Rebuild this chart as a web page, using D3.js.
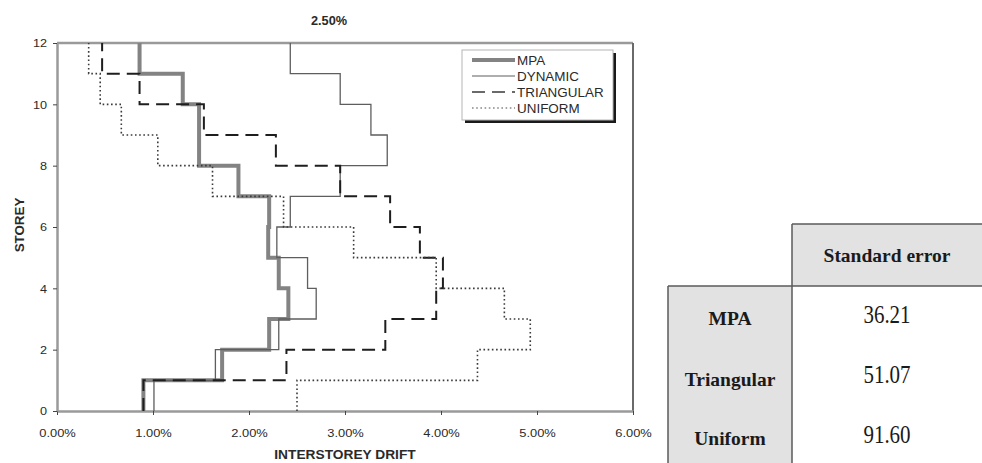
<!DOCTYPE html>
<html>
<head>
<meta charset="utf-8">
<script src="https://cdn.jsdelivr.net/npm/d3@7"></script>
<style>
  html, body { margin: 0; padding: 0; background: #fff; }
  svg { display: block; }
</style>
</head>
<body>
<svg id="chart" width="982" height="463"></svg>
<script>
// Interstorey drift per storey (in %), storey i spans floor level i-1 to i
const storeys = [1, 2, 3, 4, 5, 6, 7, 8, 9, 10, 11, 12];
const mpa        = [0.90, 1.72, 2.21, 2.41, 2.31, 2.20, 2.21, 1.89, 1.48, 1.48, 1.31, 0.86];
const dynamic    = [1.01, 1.65, 2.31, 2.70, 2.61, 2.29, 2.43, 2.95, 3.44, 3.27, 2.95, 2.43];
const triangular = [0.90, 2.39, 3.42, 3.95, 4.02, 3.78, 3.47, 2.95, 2.28, 1.53, 0.86, 0.47];
const uniform    = [2.50, 4.38, 4.93, 4.66, 3.95, 3.09, 2.36, 1.62, 1.05, 0.67, 0.45, 0.33];

const seriesNames = ["MPA", "DYNAMIC", "TRIANGULAR", "UNIFORM"];
const xTicks = [0, 1, 2, 3, 4, 5, 6];
const yTicks = [0, 2, 4, 6, 8, 10, 12];
const chartTitle = "2.50%";

// Standard error table
const tableHeader = "Standard error";
const methods = ["MPA", "Triangular", "Uniform"];
const stdErrors = [36.21, 51.07, 91.60];

const svg = d3.select("#chart");
const SANS = "'Liberation Sans', Arial, sans-serif";
const SERIF = "'Liberation Serif', 'Times New Roman', serif";

const x = d3.scaleLinear().domain([0, 6]).range([57, 633]);
const y = d3.scaleLinear().domain([0, 12]).range([411, 43]);

// slightly widened sans text, as in the chart's rendering
function label(parent, px, py, text, opt = {}) {
  const sx = opt.sx || 1.1;
  return parent.append("text")
    .attr("transform", `translate(${px},${py})${opt.rotate ? ` rotate(${opt.rotate})` : ""} scale(${sx},1)`)
    .attr("text-anchor", opt.anchor || "start")
    .attr("font-family", opt.family || SANS)
    .attr("font-size", opt.size || 11.5)
    .attr("font-weight", opt.weight || "normal")
    .attr("fill", opt.fill || "#2a2a2a")
    .text(text);
}

// ---- plot frame (top and right borders)
svg.append("line").attr("x1", x(0)).attr("x2", x(6)).attr("y1", y(12)).attr("y2", y(12))
  .attr("stroke", "#9a9a9a").attr("stroke-width", 2.5);
svg.append("line").attr("x1", x(6)).attr("x2", x(6)).attr("y1", y(12)).attr("y2", y(0))
  .attr("stroke", "#6a6a6a").attr("stroke-width", 2);

// ---- axes
const xAxis = svg.append("g").attr("transform", `translate(0,${y(0)})`)
  .call(d3.axisBottom(x).tickValues(xTicks).tickSize(4).tickSizeOuter(0).tickPadding(14)
    .tickFormat(d => d.toFixed(2) + "%"));
const yAxis = svg.append("g").attr("transform", `translate(${x(0)},0)`)
  .call(d3.axisLeft(y).tickValues(yTicks).tickSize(4).tickSizeOuter(0).tickPadding(6)
    .tickFormat(d3.format("d")));

[xAxis, yAxis].forEach(g => {
  g.select(".domain").attr("stroke", "#9a9a9a").attr("stroke-width", 2.5);
  g.selectAll(".tick line").attr("stroke", "#444").attr("stroke-width", 1);
  g.selectAll(".tick text").attr("font-family", SANS).attr("font-size", 11.5).attr("fill", "#2a2a2a");
});
xAxis.selectAll(".tick text").attr("transform", "scale(1.12,1)");
yAxis.selectAll(".tick text").attr("x", -10 / 1.1).attr("transform", "scale(1.1,1)");

// ---- titles
label(svg, 329, 25, chartTitle, { anchor: "middle", size: 12.5, weight: "bold", sx: 1.02 });
label(svg, 345, 459, "INTERSTOREY DRIFT", { anchor: "middle", size: 12.5, weight: "bold", sx: 1.1 });
label(svg, 24, 225, "STOREY", { anchor: "middle", size: 12.5, weight: "bold", rotate: -90, sx: 1.07 });

// ---- step profiles: each storey drawn as a vertical segment between its floor levels
function stepPoints(values) {
  const pts = [];
  values.forEach((v, i) => {
    pts.push([v, storeys[i] - 1]);
    pts.push([v, storeys[i]]);
  });
  return pts;
}
const line = d3.line().x(d => x(d[0])).y(d => y(d[1]));

const styles = {
  MPA:        { stroke: "#838383", width: 4,   dash: null },
  DYNAMIC:    { stroke: "#5e5e5e", width: 1.3, dash: null },
  TRIANGULAR: { stroke: "#1e1e1e", width: 2,   dash: "13,7" },
  UNIFORM:    { stroke: "#3a3a3a", width: 1.6, dash: "1.6,2.6" }
};
const seriesData = { MPA: mpa, DYNAMIC: dynamic, TRIANGULAR: triangular, UNIFORM: uniform };

const plot = svg.append("g");
seriesNames.forEach(name => {
  const s = styles[name];
  plot.append("path")
    .attr("d", line(stepPoints(seriesData[name])))
    .attr("fill", "none")
    .attr("stroke", s.stroke)
    .attr("stroke-width", s.width)
    .attr("stroke-dasharray", s.dash)
    .attr("stroke-linejoin", "miter");
});

// ---- legend
const lg = svg.append("g");
lg.append("rect").attr("x", 465).attr("y", 53).attr("width", 151).attr("height", 70).attr("fill", "#1a1a1a");
lg.append("rect").attr("x", 462).attr("y", 50).attr("width", 151).attr("height", 70)
  .attr("fill", "#fff").attr("stroke", "#b5b5b5").attr("stroke-width", 1);
seriesNames.forEach((name, i) => {
  const s = styles[name];
  const cy = 60 + i * 16;
  lg.append("line").attr("x1", 472).attr("x2", 515).attr("y1", cy).attr("y2", cy)
    .attr("stroke", name === "TRIANGULAR" ? "#6a6a6a" : (name === "UNIFORM" ? "#888" : s.stroke))
    .attr("stroke-width", name === "DYNAMIC" ? 1.2 : s.width)
    .attr("stroke-dasharray", s.dash);
  label(lg, 517, cy + 5, name, { size: 12, sx: 1.12 });
});

// ---- standard error table
const tb = svg.append("g");
const colL = 668, colM = 792, colR = 982, headTop = 224, rowTop = 286, bottom = 463;
tb.append("rect").attr("x", colM).attr("y", headTop).attr("width", colR - colM).attr("height", rowTop - headTop)
  .attr("fill", "#e2e2e2");
tb.append("rect").attr("x", colL).attr("y", rowTop).attr("width", colM - colL).attr("height", bottom - rowTop)
  .attr("fill", "#e2e2e2");
const borderC = "#5a5a5a";
tb.append("line").attr("x1", colM).attr("x2", colR).attr("y1", headTop).attr("y2", headTop)
  .attr("stroke", borderC).attr("stroke-width", 1.5);
tb.append("line").attr("x1", colM).attr("x2", colM).attr("y1", headTop).attr("y2", bottom)
  .attr("stroke", borderC).attr("stroke-width", 1.5);
tb.append("line").attr("x1", colL).attr("x2", colR).attr("y1", rowTop).attr("y2", rowTop)
  .attr("stroke", borderC).attr("stroke-width", 1.5);
tb.append("line").attr("x1", colL).attr("x2", colL).attr("y1", rowTop).attr("y2", bottom)
  .attr("stroke", borderC).attr("stroke-width", 1.5);

tb.append("text").attr("x", (colM + colR) / 2).attr("y", 262)
  .attr("text-anchor", "middle").attr("font-family", SERIF).attr("font-size", 19.5)
  .attr("font-weight", "bold").attr("fill", "#1a1a1a").text(tableHeader);

const rowBase = [325, 386, 445];
const valBase = [323, 383, 443];
methods.forEach((m, i) => {
  tb.append("text").attr("x", (colL + colM) / 2).attr("y", rowBase[i])
    .attr("text-anchor", "middle").attr("font-family", SERIF).attr("font-size", 19.5)
    .attr("font-weight", "bold").attr("fill", "#1a1a1a").text(m);
  tb.append("text")
    .attr("transform", `translate(${(colM + colR) / 2},${valBase[i]}) scale(1,1.15)`)
    .attr("text-anchor", "middle").attr("font-family", SERIF).attr("font-size", 21)
    .attr("fill", "#1a1a1a").text(stdErrors[i].toFixed(2));
});
</script>
</body>
</html>
